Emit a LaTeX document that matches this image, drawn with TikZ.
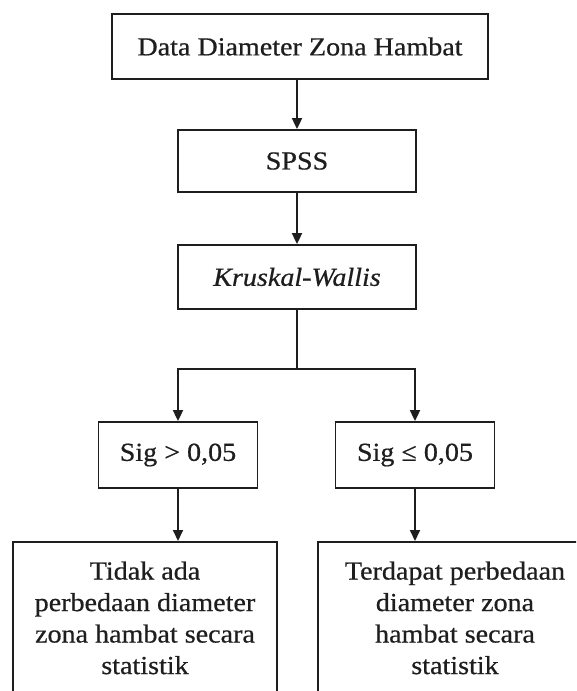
\documentclass[tikz,border=0pt]{standalone}
\usepackage{fontspec}
\setmainfont{Liberation Serif}[FakeStretch=1.08,FakeBold=0.6]
\usetikzlibrary{arrows.meta}
\definecolor{ink}{HTML}{1E1E1E}
\begin{document}
\begin{tikzpicture}[x=1pt,y=-1pt,
  box/.style={draw=ink, line width=1.8pt, text=ink, align=center, inner sep=0pt,
              font=\fontsize{26}{31.5}\selectfont},
  link/.style={draw=ink, line width=1.8pt},
  flow/.style={link, -{Triangle[length=11pt,width=10pt]}}]
\useasboundingbox (0,0) rectangle (576,691);
\clip (0,0) rectangle (576,691);

% main chain
\node[box, minimum width=376pt, minimum height=65pt] (data) at (300,46.5) {Data Diameter Zona Hambat};
\node[box, minimum width=238pt, minimum height=62pt] (spss) at (297,161) {SPSS};
\node[box, minimum width=238pt, minimum height=64pt] (kw) at (297,277) {\itshape Kruskal-Wallis};

% decision boxes
\node[box, minimum width=159pt, minimum height=66pt] (sigA) at (178,455) {Sig > 0,05};
\node[box, minimum width=159pt, minimum height=66pt] (sigB) at (415,455) {Sig ≤ 0,05};

% conclusions (run past the lower and right edge)
\node[box, minimum width=264pt, minimum height=152pt, anchor=north] (resA) at (145,541)
  {Tidak ada\\perbedaan diameter\\zona hambat secara\\statistik};
\node[box, minimum width=274pt, minimum height=152pt, anchor=north] (resB) at (455,541)
  {Terdapat perbedaan\\diameter zona\\hambat secara\\statistik};

% connectors
\coordinate (fork) at (297,369);
\draw[flow] (spss.north |- data.south) -- (spss.north);
\draw[flow] (spss) -- (kw);
\draw[link] (kw.south) -- (fork);
\draw[flow] (fork) -| (sigA.north);
\draw[flow] (fork) -| (sigB.north);
\draw[flow] (sigA.south) -- (sigA.south |- resA.north);
\draw[flow] (sigB.south) -- (sigB.south |- resB.north);
\end{tikzpicture}
\end{document}
